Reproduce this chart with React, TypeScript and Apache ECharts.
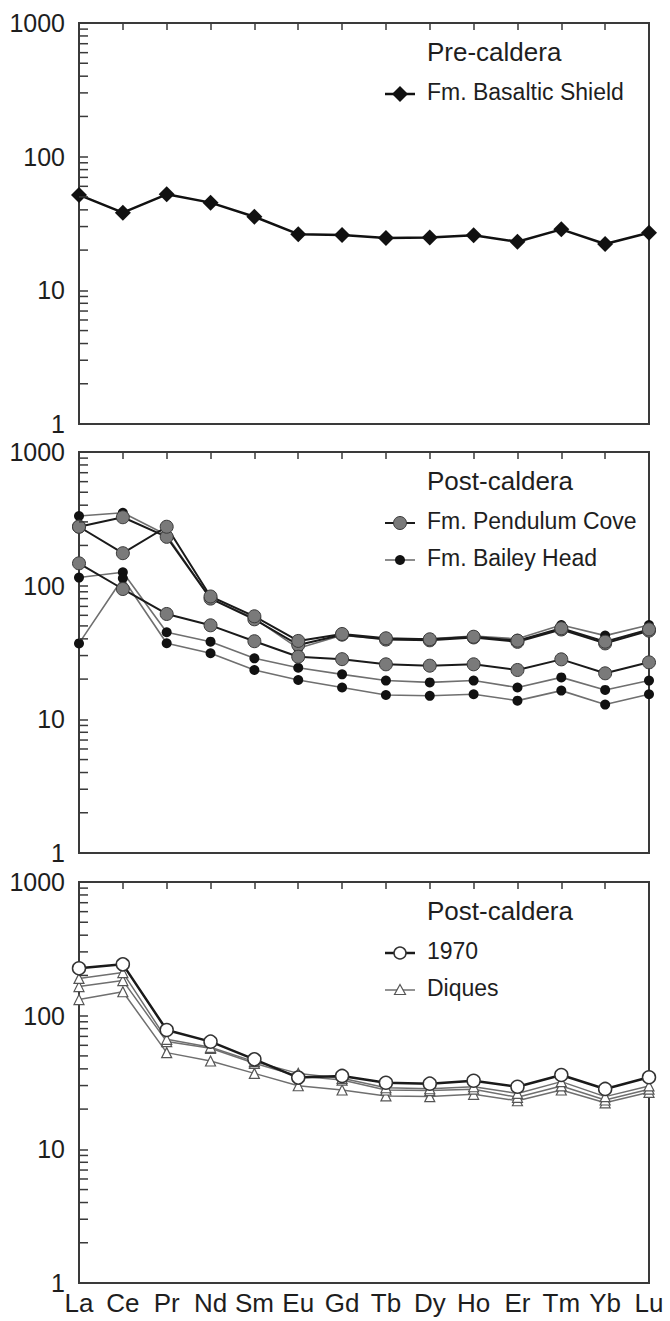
import React, { useEffect, useRef } from "react";
import * as echarts from "echarts";

// Rare earth elements along the x axis
const elements = ["La", "Ce", "Pr", "Nd", "Sm", "Eu", "Gd", "Tb", "Dy", "Ho", "Er", "Tm", "Yb", "Lu"];

// Pre-caldera
const basalticShield = [51.7, 38.1, 52.3, 45.3, 35.5, 26.3, 25.9, 24.6, 24.8, 25.8, 23.1, 28.6, 22.2, 27.0];

// Post-caldera: Fm. Pendulum Cove
const pendulumCove1 = [276, 325, 232, 80, 56, 36, 43, 39.5, 39, 41, 38, 47, 37, 46];
const pendulumCove2 = [276, 175, 276, 83, 59, 38.6, 43.5, 40.4, 39.7, 41.5, 38.8, 48, 38.1, 47.1];
const pendulumCove3 = [147, 94.4, 61.4, 50.5, 38.4, 29.4, 28.2, 25.8, 25.2, 25.8, 23.4, 28.1, 22.1, 26.7];

// Post-caldera: Fm. Bailey Head
const baileyHead1 = [332, 351, 239, 80, 57, 34, 42.5, 40, 40, 42, 40, 50.8, 42.3, 50.8];
const baileyHead2 = [115, 126, 44.8, 38.1, 28.6, 24.3, 21.7, 19.5, 18.9, 19.5, 17.3, 20.6, 16.6, 19.5];
const baileyHead3 = [37, 113.5, 37.1, 31.2, 23.4, 19.7, 17.3, 15.2, 15.0, 15.4, 13.8, 16.4, 12.9, 15.4];

// Post-caldera: 1970 eruption and dykes
const sample1970 = [226, 242, 78.1, 63.9, 47.1, 34.4, 35.4, 31.5, 31.0, 32.6, 29.4, 36.0, 28.3, 34.6];
const diques1 = [190, 210, 66.5, 58, 45.3, 37, 34, 28.9, 28.4, 29.4, 26.2, 32.1, 24.8, 29.8];
const diques2 = [165, 183, 64, 57, 44, 35.4, 33, 27.8, 27.5, 28.2, 24.5, 29.8, 23.4, 28.2];
const diques3 = [132, 151, 52.9, 45.8, 37, 29.9, 27.8, 25.1, 24.8, 25.8, 23.1, 27.8, 22.3, 26.7];

// Log-axis minor tick values (2..9 within each decade)
const minorTickValues = [
  2, 3, 4, 5, 6, 7, 8, 9,
  20, 30, 40, 50, 60, 70, 80, 90,
  200, 300, 400, 500, 600, 700, 800, 900,
];

const panelTitles = ["Pre-caldera", "Post-caldera", "Post-caldera"];

const FONT = "'Liberation Sans', Arial, Helvetica, sans-serif";
const TEXT = "#1e1e1e";
const FRAME = "#3a3a3a";

const GRID_LEFT = 79;
const GRID_WIDTH = 570;
const GRID_HEIGHT = 401;
const GRID_TOPS = [23, 452, 882];

export default function App() {
  const ref = useRef<HTMLDivElement>(null);

  useEffect(() => {
    if (!ref.current) return;
    const chart = echarts.init(ref.current, undefined, { renderer: "svg" });

    const grids = GRID_TOPS.map((top) => ({
      left: GRID_LEFT,
      top,
      width: GRID_WIDTH,
      height: GRID_HEIGHT,
      show: true,
      borderColor: FRAME,
      borderWidth: 2,
      backgroundColor: "transparent",
    }));

    const xAxes: any[] = [];
    GRID_TOPS.forEach((_, i) => {
      xAxes.push({
        type: "category",
        gridIndex: i,
        data: elements,
        boundaryGap: false,
        axisLine: { show: false },
        axisTick: { show: false },
        splitLine: { show: false },
        axisLabel: {
          show: i === 2,
          interval: 0,
          fontSize: 26,
          fontFamily: FONT,
          color: TEXT,
          margin: 7,
        },
      });
      xAxes.push({
        type: "category",
        gridIndex: i,
        position: "top",
        data: elements,
        boundaryGap: false,
        axisLine: { show: false },
        axisTick: { show: true, inside: true, length: 7, lineStyle: { color: FRAME, width: 1.5 } },
        axisLabel: { show: false },
        splitLine: { show: false },
      });
    });

    const yAxes = GRID_TOPS.map((_, i) => ({
      type: "log",
      logBase: 10,
      gridIndex: i,
      min: 1,
      max: 1000,
      axisLine: { show: false },
      axisTick: { show: true, inside: true, length: 9, lineStyle: { color: FRAME, width: 1.5 } },
      splitLine: { show: false },
      axisLabel: {
        fontSize: 25,
        fontFamily: FONT,
        color: TEXT,
        margin: 14,
        formatter: (v: number) => String(Math.round(v)),
      },
    }));

    const lineSeries = (
      name: string,
      data: number[],
      panel: number,
      symbol: string,
      symbolSize: number,
      lineColor: string,
      lineWidth: number,
      fill: string,
      border: string,
      borderWidth: number,
      z = 3
    ) => ({
      type: "line",
      name,
      xAxisIndex: panel * 2,
      yAxisIndex: panel,
      data,
      symbol,
      symbolSize,
      showSymbol: true,
      z,
      lineStyle: { color: lineColor, width: lineWidth },
      itemStyle: { color: fill, borderColor: border, borderWidth, opacity: 1 },
      silent: true,
    });

    const tickSeries = (panel: number) => ({
      type: "custom",
      xAxisIndex: panel * 2,
      yAxisIndex: panel,
      silent: true,
      clip: false,
      z: 10,
      data: minorTickValues.map((v) => [0, v]),
      renderItem: (_params: any, api: any) => {
        const p = api.coord([0, api.value(1)]);
        return {
          type: "line",
          shape: { x1: p[0], y1: p[1], x2: p[0] + 9, y2: p[1] },
          style: { stroke: FRAME, lineWidth: 1.5 },
        };
      },
    });

    const series: any[] = [
      tickSeries(0),
      tickSeries(1),
      tickSeries(2),
      lineSeries("Fm. Basaltic Shield", basalticShield, 0, "diamond", 16, "#111", 2.5, "#111", "#111", 0),

      lineSeries("Fm. Bailey Head", baileyHead1, 1, "circle", 10, "#6f6f6f", 1.6, "#111", "#111", 0, 3),
      lineSeries("Fm. Bailey Head", baileyHead2, 1, "circle", 10, "#6f6f6f", 1.6, "#111", "#111", 0, 3),
      lineSeries("Fm. Bailey Head", baileyHead3, 1, "circle", 10, "#6f6f6f", 1.6, "#111", "#111", 0, 3),
      lineSeries("Fm. Pendulum Cove", pendulumCove1, 1, "circle", 13, "#1a1a1a", 2, "#7a7a7a", "#3a3a3a", 1, 4),
      lineSeries("Fm. Pendulum Cove", pendulumCove2, 1, "circle", 13, "#1a1a1a", 2, "#7a7a7a", "#3a3a3a", 1, 4),
      lineSeries("Fm. Pendulum Cove", pendulumCove3, 1, "circle", 13, "#1a1a1a", 2, "#7a7a7a", "#3a3a3a", 1, 4),

      lineSeries("Diques", diques3, 2, "triangle", 10, "#6f6f6f", 1.5, "#fff", "#555", 1.2, 3),
      lineSeries("Diques", diques2, 2, "triangle", 10, "#6f6f6f", 1.5, "#fff", "#555", 1.2, 3),
      lineSeries("Diques", diques1, 2, "triangle", 10, "#6f6f6f", 1.5, "#fff", "#555", 1.2, 3),
      lineSeries("1970", sample1970, 2, "circle", 13, "#1a1a1a", 2.5, "#fff", "#333", 1.5, 4),
    ];

    // Panel titles and legend keys
    const LX0 = 385;
    const LX1 = 415;
    const LMID = 400;
    const TX = 427;
    const graphics: any[] = [];

    const addText = (text: string, y: number, size: number) => {
      graphics.push({
        type: "text",
        left: TX,
        top: y - size * 0.6,
        style: { text, font: `${size}px ${FONT}`, fill: TEXT },
        z: 20,
      });
    };
    const addLine = (y: number, color: string, width: number) => {
      graphics.push({
        type: "line",
        shape: { x1: LX0, y1: y, x2: LX1, y2: y },
        style: { stroke: color, lineWidth: width },
        z: 20,
      });
    };

    GRID_TOPS.forEach((top, i) => addText(panelTitles[i], top + 32, 26));

    // Pre-caldera key
    {
      const y = GRID_TOPS[0] + 71;
      addLine(y, "#111", 2.5);
      graphics.push({
        type: "polygon",
        shape: { points: [[LMID, y - 8], [LMID + 8, y], [LMID, y + 8], [LMID - 8, y]] },
        style: { fill: "#111" },
        z: 21,
      });
      addText("Fm. Basaltic Shield", y, 23);
    }
    // Pendulum Cove / Bailey Head keys
    {
      const y1 = GRID_TOPS[1] + 71;
      addLine(y1, "#1a1a1a", 2);
      graphics.push({
        type: "circle",
        shape: { cx: LMID, cy: y1, r: 6.5 },
        style: { fill: "#7a7a7a", stroke: "#3a3a3a", lineWidth: 1 },
        z: 21,
      });
      addText("Fm. Pendulum Cove", y1, 23);
      const y2 = GRID_TOPS[1] + 108;
      addLine(y2, "#6f6f6f", 1.6);
      graphics.push({
        type: "circle",
        shape: { cx: LMID, cy: y2, r: 5 },
        style: { fill: "#111" },
        z: 21,
      });
      addText("Fm. Bailey Head", y2, 23);
    }
    // 1970 / Diques keys
    {
      const y1 = GRID_TOPS[2] + 71;
      addLine(y1, "#1a1a1a", 2.5);
      graphics.push({
        type: "circle",
        shape: { cx: LMID, cy: y1, r: 6 },
        style: { fill: "#fff", stroke: "#333", lineWidth: 1.5 },
        z: 21,
      });
      addText("1970", y1, 23);
      const y2 = GRID_TOPS[2] + 108;
      addLine(y2, "#6f6f6f", 1.5);
      graphics.push({
        type: "polygon",
        shape: { points: [[LMID, y2 - 5.5], [LMID + 5.5, y2 + 4.5], [LMID - 5.5, y2 + 4.5]] },
        style: { fill: "#fff", stroke: "#555", lineWidth: 1.2 },
        z: 21,
      });
      addText("Diques", y2, 23);
    }

    chart.setOption({
      animation: false,
      backgroundColor: "#fff",
      grid: grids,
      xAxis: xAxes,
      yAxis: yAxes,
      series,
      graphic: graphics,
    });

    return () => chart.dispose();
  }, []);

  return (
    <div
      ref={ref}
      style={{ position: "absolute", left: 0, top: 0, width: 670, height: 1321, background: "#fff" }}
    />
  );
}
